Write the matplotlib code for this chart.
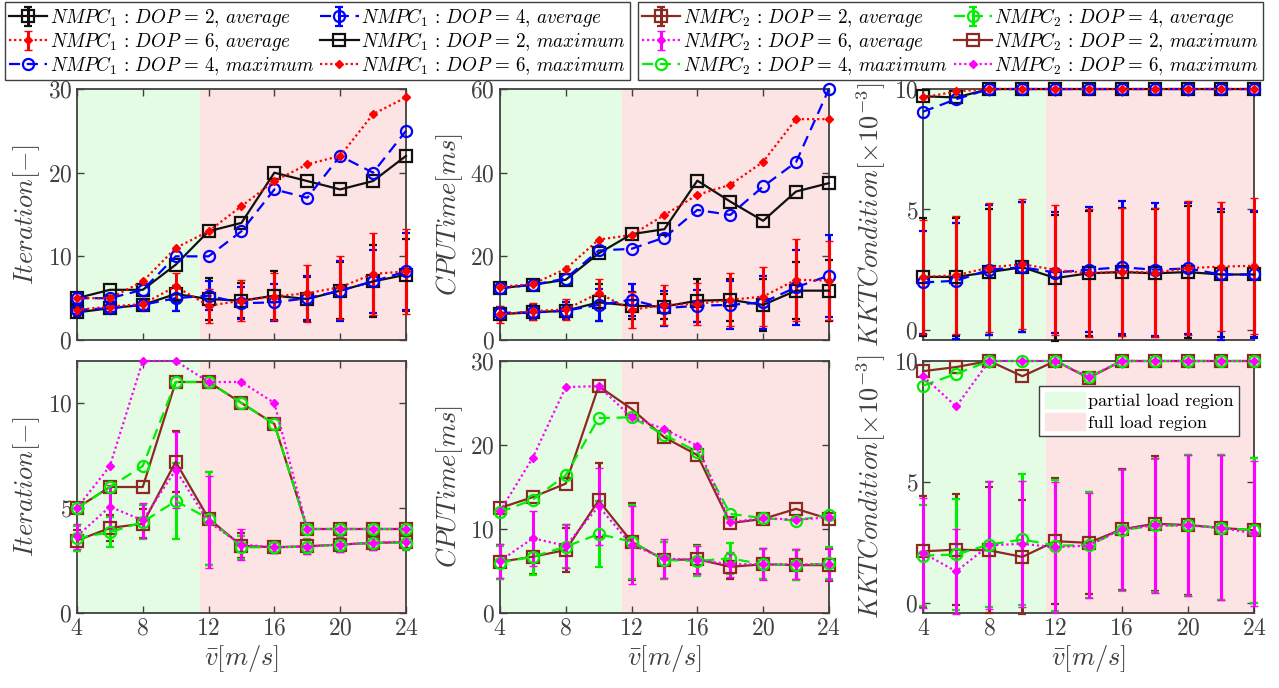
import numpy as np
import matplotlib.pyplot as plt
from matplotlib.patches import Patch

plt.rcParams['mathtext.fontset'] = 'cm'
plt.rcParams['font.family'] = 'serif'
plt.rcParams['font.serif'] = ['cmr10']
plt.rcParams['axes.formatter.use_mathtext'] = True

v = [4, 6, 8, 10, 12, 14, 16, 18, 20, 22, 24]

# NMPC1 iterations
it1_avg_d2 = [3.3, 3.8, 4.2, 5.5, 4.9, 4.7, 5.3, 4.9, 5.9, 7.0, 7.8]
it1_std_d2 = [0.5, 0.5, 0.6, 1.0, 2.5, 2.1, 2.9, 2.6, 3.4, 4.3, 4.3]
it1_avg_d4 = [3.6, 3.8, 4.2, 5.0, 5.3, 4.4, 4.5, 5.0, 5.9, 7.0, 8.2]
it1_std_d4 = [0.5, 0.5, 0.6, 1.5, 1.7, 1.9, 2.2, 2.6, 3.6, 3.8, 4.6]
it1_avg_d6 = [3.6, 4.0, 4.3, 6.4, 4.1, 4.7, 5.2, 5.6, 6.3, 7.9, 8.2]
it1_std_d6 = [0.55, 0.65, 0.75, 1.55, 2.05, 2.45, 2.8, 3.4, 3.8, 4.9, 5.1]
it1_max_d2 = [5, 6, 6, 9, 13, 14, 20, 19, 18, 19, 22]
it1_max_d4 = [5, 5, 6, 10, 10, 13, 18, 17, 22, 20, 25]
it1_max_d6 = [5, 5, 7, 11, 13, 16, 19, 21, 22, 27, 29]

# NMPC1 CPU time
cpu1_avg_d2 = [6.2, 6.6, 7.0, 9.0, 8.2, 8.0, 9.4, 9.6, 8.4, 11.8, 11.8]
cpu1_std_d2 = [1.5, 1.6, 2.0, 4.4, 3.2, 3.0, 5.2, 5.0, 6.2, 6.8, 7.3]
cpu1_avg_d4 = [6.5, 6.6, 7.0, 8.4, 9.6, 7.6, 8.2, 8.4, 9.0, 12.6, 15.4]
cpu1_std_d4 = [1.5, 1.8, 2.0, 3.8, 3.8, 4.2, 3.8, 5.8, 6.4, 9.0, 9.8]
cpu1_avg_d6 = [6.1, 6.9, 7.3, 11.2, 7.2, 8.4, 8.6, 9.6, 10.4, 14.4, 14.2]
cpu1_std_d6 = [2.1, 2.0, 2.6, 3.5, 4.3, 4.7, 5.1, 6.3, 7.0, 9.8, 9.4]
cpu1_max_d2 = [12.4, 13.2, 14.4, 20.7, 25.3, 26.5, 38.1, 33.1, 28.5, 35.5, 37.5]
cpu1_max_d4 = [12.4, 13.2, 14.7, 21.4, 21.8, 24.5, 31.1, 29.9, 36.7, 42.5, 60.0]
cpu1_max_d6 = [12.7, 13.4, 17.0, 24.0, 25.1, 29.9, 34.7, 37.1, 42.6, 52.8, 52.8]

# NMPC1 KKT condition
kkt1_avg_d2 = [2.2, 2.2, 2.4, 2.6, 2.15, 2.35, 2.4, 2.35, 2.4, 2.3, 2.3]
kkt1_std_d2 = [2.45, 2.45, 2.6, 2.7, 2.6, 2.6, 2.65, 2.65, 2.75, 2.6, 2.6]
kkt1_avg_d4 = [1.97, 2.04, 2.5, 2.6, 2.38, 2.5, 2.6, 2.5, 2.55, 2.3, 2.3]
kkt1_std_d4 = [2.15, 2.4, 2.7, 2.7, 2.5, 2.6, 2.75, 2.75, 2.7, 2.7, 2.65]
kkt1_avg_d6 = [2.2, 2.27, 2.59, 2.73, 2.49, 2.35, 2.42, 2.38, 2.56, 2.63, 2.66]
kkt1_std_d6 = [2.38, 2.45, 2.69, 2.71, 2.69, 2.66, 2.66, 2.68, 2.79, 2.68, 2.81]
kkt1_max_d2 = [9.7, 9.65, 10, 10, 10, 10, 10, 10, 10, 10, 10]
kkt1_max_d4 = [9.06, 9.58, 10, 10, 10, 10, 10, 10, 10, 10, 10]
kkt1_max_d6 = [9.65, 9.9, 10, 10, 10, 10, 10, 10, 10, 10, 10]

# NMPC2 iterations
it2_avg_d2 = [3.45, 4.05, 4.25, 7.2, 4.5, 3.2, 3.13, 3.18, 3.26, 3.34, 3.37]
it2_std_d2 = [0.5, 0.6, 0.7, 1.45, 2.2, 0.6, 0.25, 0.35, 0.35, 0.35, 0.35]
it2_avg_d4 = [3.56, 3.85, 4.33, 5.33, 4.5, 3.13, 3.13, 3.16, 3.26, 3.34, 3.34]
it2_std_d4 = [0.6, 0.7, 0.8, 1.8, 2.2, 0.55, 0.25, 0.35, 0.35, 0.35, 0.35]
it2_avg_d6 = [3.66, 5.06, 4.41, 6.82, 4.33, 3.26, 3.13, 3.16, 3.26, 3.34, 3.4]
it2_std_d6 = [0.6, 1.05, 0.85, 1.8, 2.2, 0.75, 0.25, 0.35, 0.35, 0.35, 0.35]
it2_max_d2 = [5, 6, 6, 11, 11, 10, 9, 4, 4, 4, 4]
it2_max_d4 = [5, 6, 7, 11, 11, 10, 9, 4, 4, 4, 4]
it2_max_d6 = [5, 7, 12, 12, 11, 11, 10, 4, 4, 4, 4]

# NMPC2 CPU time
cpu2_avg_d2 = [6.1, 6.7, 7.5, 13.4, 8.5, 6.3, 6.4, 5.5, 5.8, 5.7, 5.7]
cpu2_std_d2 = [2.0, 2.0, 2.6, 4.4, 4.6, 2.2, 1.7, 1.5, 1.8, 1.8, 1.9]
cpu2_avg_d4 = [6.0, 6.7, 7.9, 9.4, 8.5, 6.3, 6.2, 6.5, 5.8, 5.7, 5.9]
cpu2_std_d4 = [2.0, 2.2, 2.6, 3.9, 4.4, 2.2, 1.8, 1.8, 1.8, 1.8, 1.9]
cpu2_avg_d6 = [6.2, 8.9, 8.0, 12.7, 8.1, 6.5, 6.3, 5.8, 5.8, 5.8, 5.8]
cpu2_std_d6 = [2.0, 3.3, 2.6, 4.6, 4.6, 2.3, 1.7, 1.5, 1.9, 1.8, 1.9]
cpu2_max_d2 = [12.5, 13.8, 15.4, 27.0, 24.3, 20.9, 18.8, 10.7, 11.2, 12.4, 11.2]
cpu2_max_d4 = [12.0, 13.5, 16.4, 23.2, 23.3, 21.2, 19.2, 11.8, 11.3, 11.0, 11.7]
cpu2_max_d6 = [12.1, 18.5, 26.9, 27.0, 23.3, 21.9, 19.9, 10.8, 11.3, 11.1, 11.4]

# NMPC2 KKT condition
kkt2_avg_d2 = [2.13, 2.2, 2.17, 1.9, 2.55, 2.48, 3.04, 3.27, 3.22, 3.1, 3.0]
kkt2_std_d2 = [2.3, 2.3, 2.6, 2.35, 2.6, 2.1, 2.5, 2.8, 2.9, 3.0, 3.0]
kkt2_avg_d4 = [1.95, 2.0, 2.41, 2.62, 2.37, 2.38, 3.0, 3.2, 3.2, 3.1, 3.0]
kkt2_std_d4 = [2.1, 2.3, 2.6, 2.7, 2.7, 2.2, 2.5, 2.75, 2.9, 3.0, 3.0]
kkt2_avg_d6 = [2.06, 1.3, 2.38, 2.44, 2.3, 2.37, 3.04, 3.2, 3.2, 3.1, 2.87]
kkt2_std_d6 = [2.26, 1.75, 2.65, 2.6, 2.7, 2.16, 2.5, 2.8, 2.9, 3.0, 3.0]
kkt2_max_d2 = [9.58, 9.75, 10, 9.37, 10, 9.3, 10, 10, 10, 10, 10]
kkt2_max_d4 = [8.98, 9.47, 10, 10, 10, 9.33, 10, 10, 10, 10, 10]
kkt2_max_d6 = [9.37, 8.12, 10, 10, 10, 9.33, 10, 10, 10, 10, 10]

dops = [2, 4, 6]
col1 = ['#111111', '#0000ff', '#ff0000']
col2 = ['#8b2a22', '#00ee00', '#ff00ff']
styles = [dict(ls='-', marker='s', ms=8, mfc='none', mew=1.6),
          dict(ls=(0, (5, 3)), marker='o', ms=8, mfc='none', mew=1.6),
          dict(ls=(0, (1, 1.3)), marker='D', ms=4, mew=1)]

grey = '#404040'
green_bg = '#e4fce4'
red_bg = '#fde4e4'
split = 11.45


def panel(ax, avgs, stds, maxs, cols, nmpc):
    ax.axvspan(4, split, color=green_bg, lw=0, zorder=0)
    ax.axvspan(split, 24, color=red_bg, lw=0, zorder=0)
    handles = []
    for i in range(3):
        st = dict(styles[i])
        if i == 2:
            st['mfc'] = cols[i]
        eb = ax.errorbar(v, avgs[i], yerr=stds[i], color=cols[i], mec=cols[i],
                         lw=1.6, elinewidth=2.2, capsize=3, capthick=2.2,
                         clip_on=False, zorder=3, **st)
        handles.append((eb, r'$NMPC_%d\,:\,DOP\,=\,%d,\,average$' % (nmpc, dops[i])))
    for i in range(3):
        st = dict(styles[i])
        if i == 2:
            st['mfc'] = cols[i]
        ln, = ax.plot(v, maxs[i], color=cols[i], mec=cols[i], lw=1.6,
                      clip_on=False, zorder=4, **st)
        handles.append((ln, r'$NMPC_%d\,:\,DOP\,=\,%d,\,maximum$' % (nmpc, dops[i])))
    ax.set_xlim(4, 24)
    ax.set_xticks([4, 8, 12, 16, 20, 24])
    ax.tick_params(direction='in', top=True, right=True, length=5, width=1,
                   colors=grey, labelsize=17)
    for s in ax.spines.values():
        s.set_color(grey)
        s.set_linewidth(1.3)
    return handles


fig = plt.figure(figsize=(12.79, 6.88), dpi=100)
cols_x = [0.0602, 0.3909, 0.7217]
w = [0.2572, 0.2572, 0.2588]
top_y, top_h = 0.5058, 0.3648
bot_y, bot_h = 0.109, 0.3663

axes = []
for r, (y0, h) in enumerate([(top_y, top_h), (bot_y, bot_h)]):
    row = []
    for c in range(3):
        row.append(fig.add_axes([cols_x[c], y0, w[c], h]))
    axes.append(row)

h1 = panel(axes[0][0], [it1_avg_d2, it1_avg_d4, it1_avg_d6], [it1_std_d2, it1_std_d4, it1_std_d6],
           [it1_max_d2, it1_max_d4, it1_max_d6], col1, 1)
panel(axes[0][1], [cpu1_avg_d2, cpu1_avg_d4, cpu1_avg_d6], [cpu1_std_d2, cpu1_std_d4, cpu1_std_d6],
      [cpu1_max_d2, cpu1_max_d4, cpu1_max_d6], col1, 1)
panel(axes[0][2], [kkt1_avg_d2, kkt1_avg_d4, kkt1_avg_d6], [kkt1_std_d2, kkt1_std_d4, kkt1_std_d6],
      [kkt1_max_d2, kkt1_max_d4, kkt1_max_d6], col1, 1)
h2 = panel(axes[1][0], [it2_avg_d2, it2_avg_d4, it2_avg_d6], [it2_std_d2, it2_std_d4, it2_std_d6],
           [it2_max_d2, it2_max_d4, it2_max_d6], col2, 2)
panel(axes[1][1], [cpu2_avg_d2, cpu2_avg_d4, cpu2_avg_d6], [cpu2_std_d2, cpu2_std_d4, cpu2_std_d6],
      [cpu2_max_d2, cpu2_max_d4, cpu2_max_d6], col2, 2)
panel(axes[1][2], [kkt2_avg_d2, kkt2_avg_d4, kkt2_avg_d6], [kkt2_std_d2, kkt2_std_d4, kkt2_std_d6],
      [kkt2_max_d2, kkt2_max_d4, kkt2_max_d6], col2, 2)

ylabels = [r'$Iteration[-]$', r'$CPUTime[ms]$', r'$KKTCondition[\times10^{-3}]$']
for r in range(2):
    for c in range(3):
        ax = axes[r][c]
        ax.set_ylabel(ylabels[c], fontsize=19, color=grey, labelpad=4)
        if r == 0:
            ax.set_xticklabels([])
        else:
            ax.set_xlabel(r'$\bar{v}[m/s]$', fontsize=19, color=grey, labelpad=2)

axes[0][0].set_ylim(0, 30)
axes[0][0].set_yticks([0, 10, 20, 30])
axes[0][1].set_ylim(0, 60)
axes[0][1].set_yticks([0, 20, 40, 60])
axes[1][0].set_ylim(0, 12)
axes[1][0].set_yticks([0, 5, 10])
axes[1][1].set_ylim(0, 30)
axes[1][1].set_yticks([0, 10, 20, 30])
for ax in (axes[0][2], axes[1][2]):
    ax.set_ylim(-0.42, 10)
    ax.set_yticks([0, 5, 10])

# region legend
reg = [Patch(color=green_bg, label='partial load region'),
       Patch(color=red_bg, label='full load region')]
lg = axes[1][2].legend(handles=reg, loc='upper right', bbox_to_anchor=(0.955, 0.9),
                       fontsize=13, fancybox=False, edgecolor=grey, framealpha=1,
                       handlelength=2.2, handleheight=1.0, borderpad=0.3,
                       labelspacing=0.25, handletextpad=0.2, borderaxespad=0)
lg.get_frame().set_linewidth(1)


def order(h):
    # matplotlib fills legend columns first
    idx = [0, 2, 4, 1, 3, 5]
    return [h[i][0] for i in idx], [h[i][1] for i in idx]


for h, x0 in ((h1, 0.004), (h2, 0.499)):
    hs, ls = order(h)
    L = fig.legend(hs, ls, loc='upper left', bbox_to_anchor=(x0, 0.997),
                   ncol=2, fontsize=13.7, fancybox=False, edgecolor=grey,
                   framealpha=1, handlelength=2.0, borderpad=0.2, labelspacing=0.05,
                   handletextpad=0.15, columnspacing=0.3, borderaxespad=0)
    L.get_frame().set_linewidth(1)

plt.savefig('out.png', dpi=100)
